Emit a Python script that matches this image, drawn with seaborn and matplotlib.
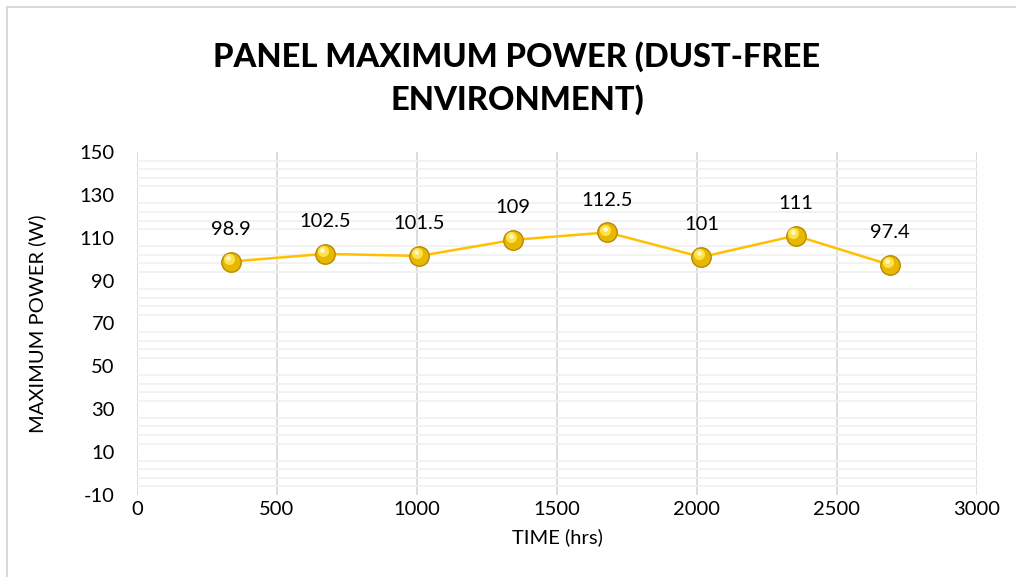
import numpy as np
import pandas as pd
import matplotlib
matplotlib.use("Agg")
import matplotlib.pyplot as plt
import matplotlib.transforms as mtransforms
from matplotlib.patches import Rectangle
import seaborn as sns

# Data
time_hrs = [336, 672, 1008, 1344, 1680, 2016, 2352, 2688]
max_power = [98.9, 102.5, 101.5, 109, 112.5, 101, 111, 97.4]
point_labels = ["98.9", "102.5", "101.5", "109", "112.5", "101", "111", "97.4"]
x_ticks = [0, 500, 1000, 1500, 2000, 2500, 3000]
y_ticks = [-10, 10, 30, 50, 70, 90, 110, 130, 150]

title = "PANEL MAXIMUM POWER (DUST-FREE\nENVIRONMENT)"
x_label = "TIME (hrs)"
y_label = "MAXIMUM POWER (W)"

sns.set_style("white")
plt.rcParams['font.family'] = ['Lato', 'DejaVu Sans']
plt.rcParams['axes.unicode_minus'] = False
plt.rcParams['text.color'] = 'black'
plt.rcParams['axes.labelcolor'] = 'black'

df = pd.DataFrame({"time": time_hrs, "power": max_power})

fig = plt.figure(figsize=(10.16, 5.77), dpi=100)
ax = fig.add_axes([137/1016, 1 - 495/577, (977 - 137)/1016, (495 - 152)/577])

# figure border (partial, as in reference)
fig.patches.append(Rectangle((7/1016, -0.1), 1.2, 1 - 7/577 + 0.1, transform=fig.transFigure,
                             fill=False, edgecolor='#d9d9d9', linewidth=1.5, zorder=0))

ax.set_xlim(0, 3000)
ax.set_ylim(-10, 150)

# gridlines
ax.set_xticks(x_ticks)
ax.set_yticks(y_ticks)
ax.set_yticks(np.arange(-10, 151, 4), minor=True)
ax.grid(False)
ax.yaxis.grid(True, which='minor', color='#f0f0f0', linewidth=1.2, zorder=0)
ax.xaxis.grid(True, which='major', color='#d9d9d9', linewidth=1.3, zorder=0)
ax.set_axisbelow(True)

for s in ax.spines.values():
    s.set_visible(False)
ax.tick_params(axis='both', which='both', length=0, labelsize=14.5, colors='#000000')
ax.tick_params(axis='x', pad=4)
ax.tick_params(axis='y', pad=16)

sns.lineplot(data=df, x="time", y="power", ax=ax, color='#FFC000', linewidth=1.8,
             marker='o', markersize=14, markerfacecolor='#E8B800',
             markeredgecolor='#B88A00', markeredgewidth=1.0, zorder=3)

# highlight on markers (styling only)
hl = mtransforms.offset_copy(ax.transData, fig=fig, x=-1.5, y=2.0, units='points')
ax.plot(time_hrs, max_power, linestyle='none', marker='o', markersize=8,
        markerfacecolor='#FFE14D', markeredgewidth=0, transform=hl, zorder=4)
hl2 = mtransforms.offset_copy(ax.transData, fig=fig, x=-2.0, y=2.8, units='points')
ax.plot(time_hrs, max_power, linestyle='none', marker='o', markersize=3.5,
        markerfacecolor='#FFF8C8', markeredgewidth=0, transform=hl2, zorder=5)

for x, y, lab in zip(time_hrs, max_power, point_labels):
    ax.annotate(lab, (x, y), xytext=(0, 17), textcoords='offset points',
                ha='center', va='bottom', fontsize=14.5, color='#000000')

ax.set_xlabel(x_label, fontsize=14.5, labelpad=8)
ax.set_ylabel(y_label, fontsize=14.5, labelpad=24)

fig.text(517/1016, 1 - 78/577, title, ha='center', va='center', fontsize=23.5,
         fontweight='black', linespacing=1.45, color='black')

fig.savefig("out.png", dpi=100, facecolor='white')
